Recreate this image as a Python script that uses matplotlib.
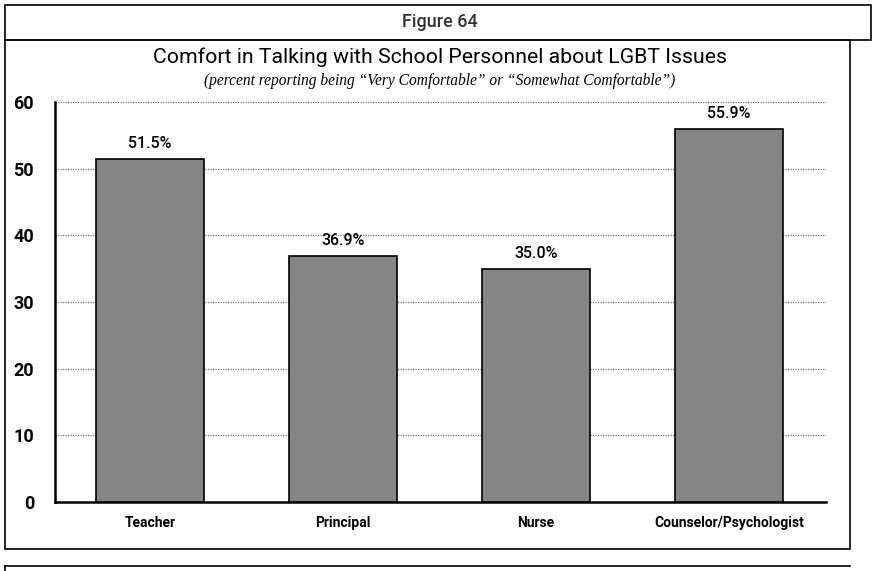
import matplotlib
matplotlib.use("Agg")
import matplotlib.pyplot as plt
from matplotlib.patches import Rectangle
from matplotlib.lines import Line2D

categories = ["Teacher", "Principal", "Nurse", "Counselor/Psychologist"]
values = [51.5, 36.9, 35.0, 55.9]
yticks = [0, 10, 20, 30, 40, 50, 60]

SANS = ["Roboto", "DejaVu Sans"]
plt.rcParams["font.family"] = SANS

fig = plt.figure(figsize=(8.75, 5.71), dpi=100)
W, H = 875, 571

def fx(px):
    return px / W

def fy(py):
    return 1 - py / H

# Frame boxes around the figure
for (x0, y0, x1, y1) in [(5, 5, 871, 40), (5, 40, 850, 549)]:
    fig.add_artist(Rectangle((fx(x0), fy(y1)), fx(x1 - x0), (y1 - y0) / H,
                             transform=fig.transFigure, fill=False,
                             edgecolor="black", linewidth=1.2))
fig.add_artist(Line2D([fx(5), fx(850)], [fy(566), fy(566)],
                      transform=fig.transFigure, color="black", linewidth=1.2))
fig.add_artist(Line2D([fx(5), fx(5)], [fy(566), fy(571)],
                      transform=fig.transFigure, color="black", linewidth=1.2))

fig.text(fx(440), fy(22), "Figure 64", ha="center", va="center",
         fontsize=13, color="#333333", fontweight="medium")
fig.text(fx(440), fy(57), "Comfort in Talking with School Personnel about LGBT Issues",
         ha="center", va="center", fontsize=15.3)
fig.text(fx(440), fy(81),
         "(percent reporting being \u201cVery Comfortable\u201d or \u201cSomewhat Comfortable\u201d)",
         ha="center", va="center", fontsize=11.2, style="italic",
         family=["Liberation Serif", "DejaVu Serif"])

ax = fig.add_axes([fx(55), fy(502), fx(826 - 55), (502 - 102) / H])
x = list(range(len(categories)))
ax.bar(x, values, width=0.56, color="#858585", edgecolor="black",
       linewidth=1.2, zorder=3)
for xi, v in zip(x, values):
    ax.text(xi, v + 1.2, f"{v:.1f}%", ha="center", va="bottom",
            fontsize=11.5, fontweight="medium")

ax.set_xlim(-0.492, 3.503)
ax.set_ylim(0, 60)
ax.set_yticks(yticks)
ax.set_yticklabels([str(t) for t in yticks], fontsize=13, fontweight="bold")
ax.set_xticks(x)
ax.set_xticklabels(categories, fontsize=10, fontweight="bold")
ax.tick_params(axis="both", length=0, pad=10)
ax.tick_params(axis="y", pad=15)
ax.yaxis.grid(True, linestyle=(0, (1, 1)), color="#777777", linewidth=0.9, zorder=0)
ax.set_axisbelow(True)
for s in ["top", "right"]:
    ax.spines[s].set_visible(False)
ax.spines["left"].set_linewidth(1.8)
ax.spines["bottom"].set_linewidth(1.8)

fig.savefig("out.png", dpi=100)
